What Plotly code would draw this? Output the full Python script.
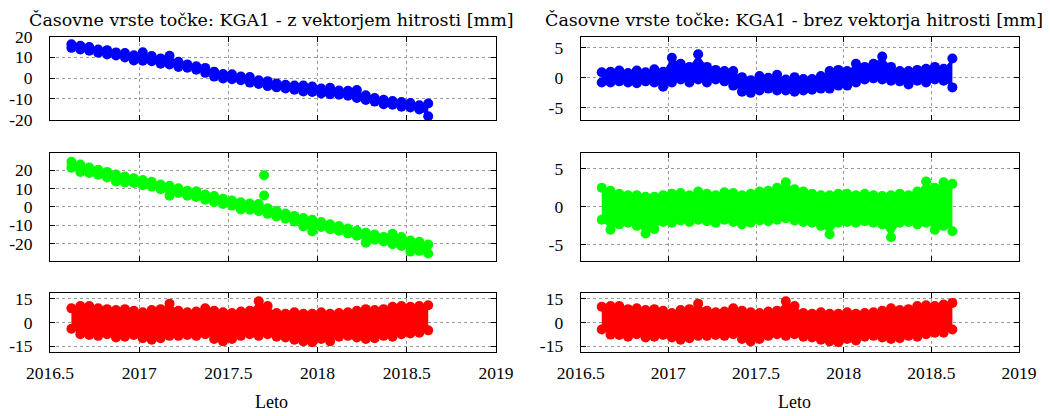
import plotly.graph_objects as go

# Epochs (decimal years)
t = [2016.62, 2016.67, 2016.72, 2016.77, 2016.82, 2016.87, 2016.92, 2016.97,
     2017.02, 2017.07, 2017.12, 2017.17, 2017.22, 2017.27, 2017.32, 2017.37,
     2017.42, 2017.47, 2017.52, 2017.57, 2017.62, 2017.67, 2017.72, 2017.77,
     2017.82, 2017.87, 2017.92, 2017.97, 2018.02, 2018.07, 2018.12, 2018.17,
     2018.22, 2018.27, 2018.32, 2018.37, 2018.42, 2018.47, 2018.52, 2018.57, 2018.62]

# ---- Left column: with velocity vector (upper / lower edge of point cloud) ----
n_vel_hi = [16.3, 15.6, 15.0, 13.8, 13.5, 12.4, 12.1, 11.0, 12.5, 10.7, 9.5, 10.8, 7.9, 6.6,
            5.7, 4.9, 3.1, 1.9, 1.8, 0.7, 0.5, -1.1, -1.5, -2.6, -3.3, -3.6, -3.6, -4.1,
            -5.1, -4.7, -6.0, -6.2, -5.8, -8.3, -9.7, -10.5, -11.1, -11.6, -12.1, -13.2, -12.3]
n_vel_lo = [14.6, 13.8, 13.2, 12.2, 11.4, 10.9, 9.9, 8.5, 8.4, 8.1, 6.9, 6.6, 5.3, 5.0,
            4.0, 2.5, 0.7, -0.2, -0.6, -1.1, -2.2, -2.9, -3.9, -4.5, -5.1, -5.7, -6.5, -6.7,
            -7.5, -7.8, -8.1, -8.6, -9.6, -10.6, -11.4, -12.7, -12.9, -13.9, -14.2, -15.2, -18.5]

e_vel_hi = [24.5, 23.0, 21.4, 20.1, 19.0, 17.6, 16.5, 15.5, 14.6, 13.6, 12.1, 11.5, 10.1, 8.7,
            8.5, 6.7, 5.9, 4.4, 3.5, 2.5, 1.8, 1.6, -0.7, -2.2, -3.6, -4.9, -6.1, -7.0,
            -8.2, -9.5, -10.4, -11.8, -13.0, -14.0, -15.0, -16.3, -14.6, -16.4, -18.3, -18.9, -20.5]
e_vel_lo = [21.3, 18.9, 18.4, 17.5, 16.0, 13.8, 13.3, 13.0, 11.8, 11.0, 9.6, 6.0, 7.5, 6.1,
            5.4, 3.9, 2.5, 1.6, 0.7, -1.4, -1.5, -2.4, -3.8, -5.2, -6.4, -7.9, -10.7, -13.3,
            -10.9, -12.1, -13.0, -14.4, -15.7, -19.5, -17.8, -18.8, -20.3, -21.2, -24.3, -23.9, -25.3]
e_vel_out_t = [2017.70, 2017.70]
e_vel_out_v = [17.2, 6.2]

u_vel_hi = [9.0, 10.5, 10.5, 9.0, 8.5, 8.0, 8.5, 7.5, 6.5, 8.0, 8.5, 12.0, 7.5, 6.5,
            7.0, 9.0, 7.5, 6.5, 6.0, 7.0, 7.5, 13.5, 10.5, 6.0, 5.5, 6.5, 5.5, 5.5,
            6.5, 5.5, 6.0, 6.5, 7.5, 8.5, 8.0, 8.5, 10.0, 10.5, 10.0, 10.5, 11.0]
u_vel_lo = [-4.0, -7.5, -8.0, -8.5, -7.5, -9.5, -9.0, -8.0, -10.0, -11.0, -10.0, -8.5, -8.5, -8.0,
            -8.5, -7.5, -10.5, -12.0, -10.5, -8.5, -7.5, -8.5, -7.5, -9.0, -9.5, -11.0, -12.0, -12.6,
            -10.5, -12.0, -9.0, -8.5, -9.5, -10.5, -10.0, -8.5, -9.0, -7.5, -7.0, -6.5, -5.0]

# ---- Right column: without velocity vector ----
n_res_hi = [0.9, 1.0, 1.2, 0.8, 1.2, 0.9, 1.4, 1.0, 3.3, 2.3, 1.8, 3.9, 1.8, 1.3,
            1.1, 1.1, 0.1, -0.4, 0.3, 0.0, 0.5, -0.3, 0.1, -0.2, -0.2, 0.3, 1.1, 1.3,
            1.1, 2.3, 1.8, 2.3, 3.5, 1.8, 1.1, 1.1, 1.3, 1.5, 1.8, 1.5, 3.2]
n_res_lo = [-0.8, -0.8, -0.6, -0.8, -0.9, -0.6, -0.8, -1.5, -0.8, -0.3, -0.8, -0.3, -0.8, -0.3,
            -0.6, -1.3, -2.3, -2.5, -2.1, -1.8, -2.1, -2.1, -2.3, -2.1, -2.0, -1.8, -1.8, -1.3,
            -1.3, -0.8, -0.3, -0.1, -0.3, -0.5, -0.6, -1.1, -0.5, -0.8, -0.3, -0.5, -1.6]

e_res_hi = [2.5, 2.1, 1.7, 1.5, 1.5, 1.3, 1.3, 1.5, 1.7, 1.8, 1.5, 2.0, 1.7, 1.5,
            1.9, 1.8, 1.5, 1.7, 2.0, 2.1, 2.5, 3.2, 2.3, 2.0, 1.7, 1.5, 1.5, 1.7,
            1.7, 1.5, 1.7, 1.5, 1.4, 1.5, 1.7, 1.5, 2.0, 3.3, 2.5, 3.2, 3.0]
e_res_lo = [-1.7, -3.0, -2.3, -2.1, -2.5, -3.5, -2.9, -2.0, -2.1, -1.8, -2.0, -1.7, -1.9, -2.1,
            -1.7, -2.0, -2.3, -2.1, -1.8, -1.9, -1.7, -1.5, -1.8, -2.0, -2.1, -2.5, -3.6, -2.1,
            -2.0, -2.1, -1.9, -2.1, -2.3, -4.0, -2.1, -2.0, -2.3, -2.1, -3.0, -2.5, -3.2]

u_res_hi = [10.0, 10.5, 10.5, 8.5, 9.0, 8.0, 8.5, 7.5, 6.0, 8.0, 8.5, 12.0, 7.5, 6.5,
            7.0, 9.0, 7.5, 6.5, 6.0, 7.0, 7.5, 13.5, 10.5, 6.0, 5.5, 6.5, 5.5, 5.5,
            6.5, 5.5, 6.0, 6.5, 7.5, 9.0, 8.0, 8.5, 10.5, 11.0, 10.5, 11.5, 12.5]
u_res_lo = [-4.5, -7.7, -8.0, -9.0, -7.5, -9.5, -9.0, -8.0, -9.5, -11.0, -10.0, -8.5, -8.5, -8.0,
            -8.5, -7.5, -10.5, -12.0, -10.5, -8.5, -7.5, -8.5, -7.5, -9.0, -9.5, -11.0, -12.0, -12.6,
            -10.5, -11.5, -9.0, -8.5, -9.5, -10.5, -10.0, -8.5, -9.0, -7.5, -6.5, -6.5, -4.5]

x_ticks = [2016.5, 2017, 2017.5, 2018, 2018.5, 2019]
x_labels = ["2016.5", "2017", "2017.5", "2018", "2018.5", "2019"]

titles = ["Časovne vrste točke: KGA1 - z vektorjem hitrosti [mm]",
          "Časovne vrste točke: KGA1 - brez vektorja hitrosti [mm]"]
xlabel = "Leto"

BLUE, GREEN, RED = "#0000ff", "#00ff00", "#ff0000"

W, H = 1050, 416
OFF = 8  # page body margin offset of the plot div


def px_x(p):
    return (p - OFF) / W


def px_y(p):
    return 1 - (p - OFF) / H


col_dom = [[px_x(50), px_x(496)], [px_x(580.7), px_x(1019)]]
row_dom = [[px_y(120), px_y(36.7)], [px_y(261), px_y(153.3)], [px_y(351.7), px_y(293.3)]]

panels = [
    # (col, row, lo, hi, color, yrange, ytick)
    (0, 0, n_vel_lo, n_vel_hi, BLUE, [-20.3, 20.0], [-20, -10, 0, 10, 20]),
    (0, 1, e_vel_lo, e_vel_hi, GREEN, [-29.4, 29.1], [-20, -10, 0, 10, 20]),
    (0, 2, u_vel_lo, u_vel_hi, RED, [-18.6, 18.6], [-15, 0, 15]),
    (1, 0, n_res_lo, n_res_hi, BLUE, [-7.0, 6.8], [-5, 0, 5]),
    (1, 1, e_res_lo, e_res_hi, GREEN, [-7.1, 7.0], [-5, 0, 5]),
    (1, 2, u_res_lo, u_res_hi, RED, [-18.6, 18.6], [-15, 0, 15]),
]

fig = go.Figure()
font_ticks = dict(family="Liberation Serif, serif", size=17.5, color="black")
layout = dict(width=W, height=H, margin=dict(l=0, r=0, t=0, b=0, autoexpand=False),
              paper_bgcolor="white", plot_bgcolor="white", showlegend=False)

for i, (c, r, lo, hi, colr, yr, yt) in enumerate(panels):
    n = i + 1
    xa = "x" if n == 1 else f"x{n}"
    ya = "y" if n == 1 else f"y{n}"
    mk = dict(color=colr, size=10, line=dict(width=0))
    ln = dict(color=colr, width=0)
    fig.add_trace(go.Scatter(x=t, y=lo, mode="lines+markers", marker=mk, line=ln,
                             xaxis=xa, yaxis=ya, cliponaxis=False, hoverinfo="skip"))
    fig.add_trace(go.Scatter(x=t, y=hi, mode="lines+markers", marker=mk, line=ln,
                             xaxis=xa, yaxis=ya, fill="tonexty", fillcolor=colr,
                             cliponaxis=False, hoverinfo="skip"))
    if c == 0 and r == 1:
        fig.add_trace(go.Scatter(x=e_vel_out_t, y=e_vel_out_v, mode="markers", marker=mk,
                                 xaxis=xa, yaxis=ya, cliponaxis=False, hoverinfo="skip"))
    axcommon = dict(showline=True, linecolor="black", linewidth=1, mirror="ticks",
                    ticks="inside", ticklen=5, tickcolor="black", tickwidth=1,
                    showgrid=True, gridcolor="#9a9a9a", griddash="dot", gridwidth=1,
                    zeroline=False, tickfont=font_ticks, automargin=False)
    layout["xaxis" if n == 1 else f"xaxis{n}"] = dict(
        axcommon, domain=col_dom[c], anchor=ya, range=[2016.5, 2019],
        tickvals=x_ticks, ticktext=x_labels, showticklabels=(r == 2),
        ticklabelstandoff=5)
    layout["yaxis" if n == 1 else f"yaxis{n}"] = dict(
        axcommon, domain=row_dom[r], anchor=xa, range=yr, tickvals=yt,
        ticktext=[str(v) for v in yt], ticklabelstandoff=13)

fig.update_layout(**layout)

title_font = dict(family="DejaVu Serif, serif", size=17.5, color="black")
fig.add_annotation(text=titles[0], x=px_x(271), y=px_y(20), xref="paper", yref="paper",
                   showarrow=False, font=title_font, xanchor="center", yanchor="middle")
fig.add_annotation(text=titles[1], x=px_x(794), y=px_y(20), xref="paper", yref="paper",
                   showarrow=False, font=title_font, xanchor="center", yanchor="middle")
lab_font = dict(family="Liberation Serif, serif", size=18, color="black")
fig.add_annotation(text=xlabel, x=px_x(271), y=px_y(402), xref="paper", yref="paper",
                   showarrow=False, font=lab_font, xanchor="center", yanchor="middle")
fig.add_annotation(text=xlabel, x=px_x(794), y=px_y(402), xref="paper", yref="paper",
                   showarrow=False, font=lab_font, xanchor="center", yanchor="middle")

fig.write_html("out.html")
